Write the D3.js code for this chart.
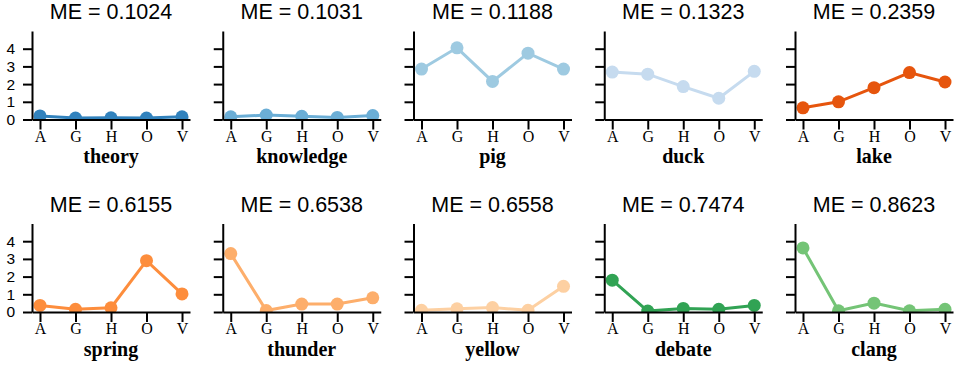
<!DOCTYPE html>
<html>
<head>
<meta charset="utf-8">
<script src="https://cdn.jsdelivr.net/npm/d3@7"></script>
<style>
  body { margin: 0; background: #fff; }
  svg { display: block; }
</style>
</head>
<body>
<div id="chart"></div>
<script>
// word categories on the x axis
var categories = ["A", "G", "H", "O", "V"];
var yTicks = [0, 1, 2, 3, 4];

// one entry per panel, in reading order
var words = ["theory", "knowledge", "pig", "duck", "lake",
             "spring", "thunder", "yellow", "debate", "clang"];
var meValues = ["0.1024", "0.1031", "0.1188", "0.1323", "0.2359",
                "0.6155", "0.6538", "0.6558", "0.7474", "0.8623"];

var theory    = [0.20, 0.08, 0.10, 0.08, 0.15];
var knowledge = [0.15, 0.25, 0.18, 0.12, 0.22];
var pig       = [2.85, 4.05, 2.15, 3.75, 2.85];
var duck      = [2.68, 2.56, 1.86, 1.20, 2.72];
var lake      = [0.66, 1.00, 1.80, 2.65, 2.12];
var spring    = [0.37, 0.15, 0.24, 2.90, 1.02];
var thunder   = [3.30, 0.08, 0.45, 0.45, 0.80];
var yellow    = [0.10, 0.18, 0.25, 0.10, 1.45];
var debate    = [1.80, 0.05, 0.20, 0.15, 0.37];
var clang     = [3.62, 0.07, 0.50, 0.07, 0.15];

var series = [theory, knowledge, pig, duck, lake, spring, thunder, yellow, debate, clang];

var colors = ["#3182bd", "#6baed6", "#9ecae1", "#c6dbef", "#e6550d",
              "#fd8d3c", "#fdae6b", "#fdd0a2", "#31a354", "#74c476"];

var width = 957, height = 366;
var pw = 158, ph = 88.5;        // plot area of one panel
var colStep = 190.75, rowStep = 192.5;
var left0 = 32, top0 = 31;

var svg = d3.select("#chart").append("svg")
    .attr("width", width)
    .attr("height", height);

var x = d3.scalePoint()
    .domain(categories)
    .range([0, pw])
    .padding(0.225);

var y = d3.scaleLinear()
    .domain([0, 5])
    .range([ph, 0]);

var line = d3.line()
    .x(function(d, i) { return x(categories[i]); })
    .y(function(d) { return y(d); });

svg.append("defs").append("clipPath")
    .attr("id", "plotClip")
    .append("rect")
    .attr("x", -2)
    .attr("y", 0)
    .attr("width", pw + 4)
    .attr("height", ph);

words.forEach(function(word, k) {
    var col = k % 5, row = Math.floor(k / 5);
    var g = svg.append("g")
        .attr("transform", "translate(" + (left0 + col * colStep) + "," + (top0 + row * rowStep) + ")");

    // title
    g.append("text")
        .attr("x", pw / 2)
        .attr("y", -12)
        .attr("text-anchor", "middle")
        .style("font-family", "'Liberation Sans', Arial, sans-serif")
        .style("font-size", "21.5px")
        .text("ME = " + meValues[k]);

    // line + dots, clipped to the plot area
    var plot = g.append("g").attr("clip-path", "url(#plotClip)");
    plot.append("path")
        .datum(series[k])
        .attr("d", line)
        .attr("fill", "none")
        .attr("stroke", colors[k])
        .attr("stroke-width", 3);
    plot.selectAll("circle")
        .data(series[k])
        .enter()
        .append("circle")
        .attr("cx", function(d, i) { return x(categories[i]); })
        .attr("cy", function(d) { return y(d); })
        .attr("r", 6.5)
        .attr("fill", colors[k]);

    // y axis
    var yAxis = d3.axisLeft(y)
        .tickValues(yTicks)
        .tickFormat(d3.format("d"))
        .tickSize(9)
        .tickSizeOuter(0)
        .tickPadding(8);
    if (col > 0) yAxis.tickFormat("");
    var ya = g.append("g").call(yAxis);
    ya.selectAll("text")
        .style("font-family", "'Liberation Sans', Arial, sans-serif")
        .style("font-size", "15.5px")
        .attr("fill", "#000");

    // x axis
    var xa = g.append("g")
        .attr("transform", "translate(0," + ph + ")")
        .call(d3.axisBottom(x).tickSize(10).tickSizeOuter(0).tickPadding(1));
    xa.selectAll("text")
        .style("font-family", "'Liberation Serif', 'Times New Roman', serif")
        .style("font-size", "16px")
        .attr("fill", "#000");

    [ya, xa].forEach(function(a) {
        a.select(".domain").attr("stroke", "#000").attr("stroke-width", 2);
        a.selectAll(".tick line").attr("stroke", "#000").attr("stroke-width", 2);
    });

    // word label
    g.append("text")
        .attr("x", pw / 2)
        .attr("y", ph + 43.5)
        .attr("text-anchor", "middle")
        .style("font-family", "'Liberation Serif', 'Times New Roman', serif")
        .style("font-size", "20px")
        .style("font-weight", "bold")
        .text(word);
});
</script>
</body>
</html>
